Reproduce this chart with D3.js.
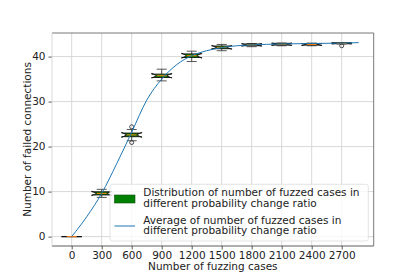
<!DOCTYPE html>
<html>
<head>
<meta charset="utf-8">
<script src="https://cdn.jsdelivr.net/npm/d3@7"></script>
<style>
  body { margin: 0; background: #fff; }
  svg { display: block; font-family: "DejaVu Sans", sans-serif; }
</style>
</head>
<body>
<div id="chart"></div>
<script>
// box stats per number of fuzzing cases
const positions = [0, 300, 600, 900, 1200, 1500, 1800, 2100, 2400, 2700];
const whiskerLo = [0, 8.7, 21.3, 34.6, 38.9, 41.3, 42.2, 42.4, 42.4, 42.8];
const q1s = [0, 9.25, 22.2, 35.35, 39.8, 41.75, 42.4, 42.55, 42.55, 42.85];
const medians = [0, 9.6, 22.6, 35.75, 40.2, 42.05, 42.6, 42.75, 42.7, 42.95];
const q3s = [0, 9.95, 23.0, 36.1, 40.6, 42.35, 42.8, 42.95, 42.9, 43.05];
const whiskerHi = [0, 10.5, 23.8, 37.2, 41.2, 42.7, 42.9, 43.0, 43.0, 43.1];
const fliers = [[], [], [24.4, 20.9], [], [], [], [], [], [], [42.4]];
const sampleCount = 5;

// average curve
const avgX = [0, 150, 300, 450, 600, 750, 900, 1050, 1200, 1350, 1500, 1650, 1800, 2100, 2400, 2700, 2870];
const avgY = [0, 4.4, 9.6, 16.2, 23.2, 30.3, 35.0, 38.2, 40.2, 41.3, 42.0, 42.4, 42.6, 42.8, 42.9, 43.0, 43.1];

const xTicks = [0, 300, 600, 900, 1200, 1500, 1800, 2100, 2400, 2700];
const yTicks = [0, 10, 20, 30, 40];

const legendLabels = [
  ["Distribution of number of fuzzed cases in", "different probability change ratio"],
  ["Average of number of fuzzed cases in", "different probability change ratio"]
];

const W = 415, H = 277;
const plotL = 52, plotR = 373.7, plotT = 33, plotB = 246;
const fs = 10.5;

const svg = d3.select("#chart").append("svg")
  .attr("width", W)
  .attr("height", H);

const x = d3.scaleLinear().domain([-197, 3020]).range([plotL, plotR]);
const y = d3.scaleLinear().domain([-2.09, 45.24]).range([plotB, plotT]);

const gridColor = "#d4d4d4";

// grid
svg.append("g")
  .selectAll("line")
  .data(xTicks)
  .join("line")
  .attr("x1", d => x(d)).attr("x2", d => x(d))
  .attr("y1", plotT).attr("y2", plotB)
  .attr("stroke", gridColor).attr("stroke-width", 0.9);

svg.append("g")
  .selectAll("line")
  .data(yTicks)
  .join("line")
  .attr("x1", plotL).attr("x2", plotR)
  .attr("y1", d => y(d)).attr("y2", d => y(d))
  .attr("stroke", gridColor).attr("stroke-width", 0.9);

// axes
const xAxis = svg.append("g")
  .attr("transform", `translate(0,${plotB})`)
  .call(d3.axisBottom(x).tickValues(xTicks).tickFormat(d3.format("d"))
    .tickSize(3.5).tickPadding(2.5).tickSizeOuter(0));
const yAxis = svg.append("g")
  .attr("transform", `translate(${plotL},0)`)
  .call(d3.axisLeft(y).tickValues(yTicks).tickFormat(d3.format("d"))
    .tickSize(3.5).tickPadding(3).tickSizeOuter(0));

[xAxis, yAxis].forEach(a => {
  a.selectAll("text")
    .attr("font-size", fs)
    .attr("font-family", "DejaVu Sans")
    .attr("fill", "#222");
  a.selectAll(".tick line").attr("stroke", "#333").attr("stroke-width", 0.8);
  a.select(".domain").remove();
});

// spines
svg.append("line")
  .attr("x1", plotL).attr("x2", plotR).attr("y1", plotB).attr("y2", plotB)
  .attr("stroke", "#333").attr("stroke-width", 0.8);
svg.append("line")
  .attr("x1", plotL).attr("x2", plotR).attr("y1", plotT).attr("y2", plotT)
  .attr("stroke", "#555").attr("stroke-width", 0.8);
svg.append("line")
  .attr("x1", plotR).attr("x2", plotR).attr("y1", plotT).attr("y2", plotB)
  .attr("stroke", "#555").attr("stroke-width", 0.8);
svg.append("line")
  .attr("x1", plotL).attr("x2", plotL).attr("y1", plotT).attr("y2", plotB)
  .attr("stroke", "#cfcfcf").attr("stroke-width", 0.8);

// boxes
const boxes = positions.map((p, i) => ({
  pos: p, lo: whiskerLo[i], q1: q1s[i], med: medians[i], q3: q3s[i], hi: whiskerHi[i], fl: fliers[i]
}));

const boxW = 200, capW = 100;
const bg = svg.append("g");

boxes.forEach(b => {
  const g = bg.append("g");
  const bl = x(b.pos - boxW / 2), br = x(b.pos + boxW / 2);
  const cl = x(b.pos - capW / 2), cr = x(b.pos + capW / 2);
  const cx = x(b.pos);
  const notch = 1.57 * (b.q3 - b.q1) / Math.sqrt(sampleCount);
  const nlo = b.med - notch, nhi = b.med + notch;

  // whiskers + caps
  g.append("line").attr("x1", cx).attr("x2", cx).attr("y1", y(b.q1)).attr("y2", y(b.lo))
    .attr("stroke", "#444").attr("stroke-width", 0.9);
  g.append("line").attr("x1", cx).attr("x2", cx).attr("y1", y(b.q3)).attr("y2", y(b.hi))
    .attr("stroke", "#444").attr("stroke-width", 0.9);
  [b.lo, b.hi].forEach(v => {
    g.append("line").attr("x1", cl).attr("x2", cr).attr("y1", y(v)).attr("y2", y(v))
      .attr("stroke", "#444").attr("stroke-width", 0.9);
  });

  const pts = [
    [bl, b.q1], [br, b.q1], [br, nlo], [cr, b.med], [br, nhi], [br, b.q3],
    [bl, b.q3], [bl, nhi], [cl, b.med], [bl, nlo], [bl, b.q1]
  ];
  g.append("path")
    .attr("d", d3.line().x(d => d[0]).y(d => y(d[1]))(pts) + "Z")
    .attr("fill", "#008000")
    .attr("stroke", "#111")
    .attr("stroke-width", 0.9)
    .attr("stroke-linejoin", "miter");

  g.append("line").attr("x1", cl).attr("x2", cr).attr("y1", y(b.med)).attr("y2", y(b.med))
    .attr("stroke", "#ff7f0e").attr("stroke-width", 1);

  g.selectAll("circle")
    .data(b.fl)
    .join("circle")
    .attr("cx", cx).attr("cy", d => y(d)).attr("r", 2)
    .attr("fill", "none").attr("stroke", "#222").attr("stroke-width", 0.8);
});

// average line
const avg = avgX.map((v, i) => ({ x: v, y: avgY[i] }));
svg.append("path")
  .datum(avg)
  .attr("fill", "none")
  .attr("stroke", "#1f77b4")
  .attr("stroke-width", 1)
  .attr("d", d3.line().x(d => x(d.x)).y(d => y(d.y)).curve(d3.curveMonotoneX));

// legend
const lg = svg.append("g");
lg.append("rect")
  .attr("x", 110).attr("y", 184.3).attr("width", 258.3).attr("height", 56.7)
  .attr("rx", 2.5)
  .attr("fill", "#fff").attr("fill-opacity", 0.8)
  .attr("stroke", "#dcdcdc").attr("stroke-width", 0.8);

lg.append("rect")
  .attr("x", 114.5).attr("y", 195).attr("width", 20.5).attr("height", 8)
  .attr("fill", "#008000").attr("stroke", "#0a4d0a").attr("stroke-width", 0.6);
lg.append("line")
  .attr("x1", 114.5).attr("x2", 135).attr("y1", 226).attr("y2", 226)
  .attr("stroke", "#1f77b4").attr("stroke-width", 1);

const textY = [[192.7, 203.4], [220, 230.7]];
legendLabels.forEach((lines, i) => {
  lines.forEach((t, j) => {
    lg.append("text")
      .attr("x", 143.3).attr("y", textY[i][j])
      .attr("dy", "0.35em")
      .attr("font-size", fs)
      .attr("fill", "#222")
      .text(t);
  });
});

// axis labels
svg.append("text")
  .attr("x", (plotL + plotR) / 2).attr("y", 266.8)
  .attr("text-anchor", "middle").attr("dy", "0.35em")
  .attr("font-size", fs).attr("fill", "#222")
  .text("Number of fuzzing cases");

svg.append("text")
  .attr("transform", `translate(27,${(plotT + plotB) / 2}) rotate(-90)`)
  .attr("text-anchor", "middle").attr("dy", "0.35em")
  .attr("font-size", fs).attr("fill", "#222")
  .text("Number of failed connections");
</script>
</body>
</html>
